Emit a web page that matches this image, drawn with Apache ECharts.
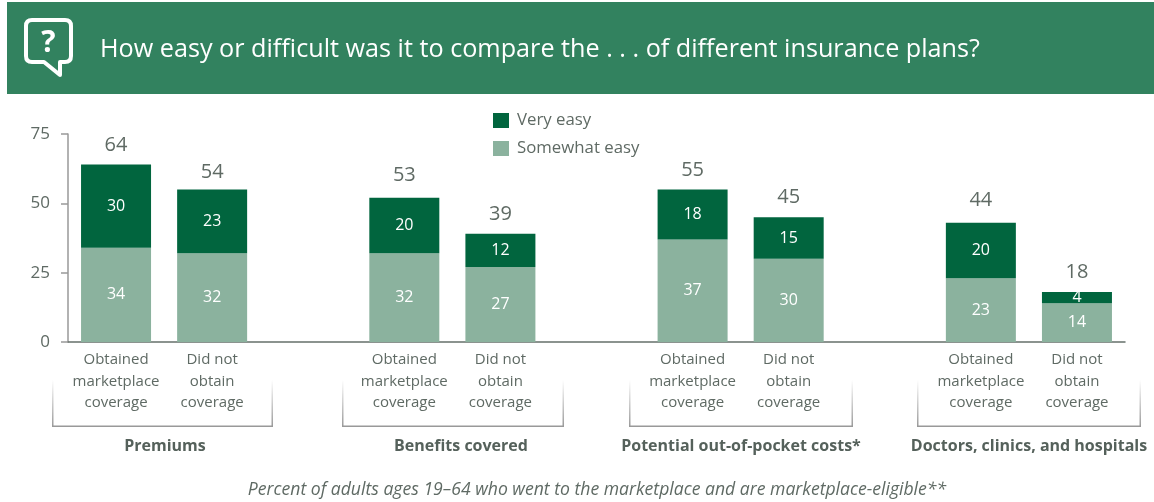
<!DOCTYPE html>
<html>
<head>
<meta charset="utf-8">
<style>html,body{margin:0;padding:0;background:#fff}#chart{width:1154px;height:502px}</style>
<script src="https://cdn.jsdelivr.net/npm/echarts@6/dist/echarts.min.js"></script>
</head>
<body>
<div id="chart"></div>
<script>
// Survey results: share of adults finding plan comparison easy, by topic and coverage outcome.
const categories = [
  'Obtained\nmarketplace\ncoverage', 'Did not\nobtain\ncoverage', '',
  'Obtained\nmarketplace\ncoverage', 'Did not\nobtain\ncoverage', '',
  'Obtained\nmarketplace\ncoverage', 'Did not\nobtain\ncoverage', '',
  'Obtained\nmarketplace\ncoverage', 'Did not\nobtain\ncoverage'
];
const somewhatEasy = [34, 32, null, 32, 27, null, 37, 30, null, 23, 14];
const veryEasy = [30, 23, null, 20, 12, null, 18, 15, null, 20, 4];
const totals = [64, 54, null, 53, 39, null, 55, 45, null, 44, 18];
const yTicks = [0, 25, 50, 75];
const groupNames = ['Premiums', 'Benefits covered', 'Potential out-of-pocket costs*', 'Doctors, clinics, and hospitals'];
const groupCenters = [165, 461, 741, 1029];
const bracketSpans = [[52, 273], [342, 564], [629, 853], [917, 1141]];
const headline = 'How easy or difficult was it to compare the . . . of different insurance plans?';
const footnote = 'Percent of adults ages 19\u201364 who went to the marketplace and are marketplace-eligible**';

const FONT = '"Open Sans", "Noto Sans", sans-serif';
const GREY = '#5f6a64';

// Speech-bubble outline for the question icon in the header band.
echarts.graphic.registerShape('bubble', echarts.graphic.extendPath(
  'M32 20H65Q71 20 71 26V56Q71 62 65 62H60V75L44 62H32Q26 62 26 56V26Q26 20 32 20Z', {}
));

// Bracket under each group: a solid foot with sides fading out upward.
const bracketTop = 380, bracketBottom = 427;
const fade = { type: 'linear', x: 0, y: 0, x2: 0, y2: 1,
  colorStops: [{ offset: 0, color: 'rgba(153,153,153,0)' }, { offset: 1, color: '#999999' }] };
const brackets = bracketSpans.flatMap(([a, b]) => [
  { type: 'rect', shape: { x: a, y: bracketTop, width: 1.5, height: bracketBottom - bracketTop }, style: { fill: fade }, silent: true },
  { type: 'rect', shape: { x: b - 1.5, y: bracketTop, width: 1.5, height: bracketBottom - bracketTop }, style: { fill: fade }, silent: true },
  { type: 'rect', shape: { x: a, y: bracketBottom - 1.5, width: b - a, height: 1.5 }, style: { fill: '#999999' }, silent: true }
]);
const groupLabels = groupNames.map((name, i) => ({
  type: 'text', x: groupCenters[i], y: 446, silent: true,
  style: { text: name, x: 0, y: 0, align: 'center', verticalAlign: 'middle',
    font: 'bold 16px ' + FONT, fill: '#55615b' }
}));

const chart = echarts.init(document.getElementById('chart'), null, { renderer: 'canvas' });
chart.setOption({
  animation: false,
  backgroundColor: '#ffffff',
  textStyle: { fontFamily: FONT },
  grid: { left: 68, right: 29, top: 134, bottom: 160, containLabel: false },
  legend: {
    data: ['Very easy', 'Somewhat easy'],
    orient: 'vertical', left: 493, top: 112, padding: 0,
    icon: 'rect',
    itemWidth: 16, itemHeight: 15, itemGap: 11,
    selectedMode: false,
    textStyle: { fontFamily: FONT, fontSize: 16.8, color: GREY, padding: [0, 0, 0, 3] }
  },
  xAxis: {
    type: 'category', data: categories,
    axisTick: { show: false },
    axisLine: { lineStyle: { color: '#66706b', width: 1.5 } },
    axisLabel: { interval: 0, fontFamily: FONT, fontSize: 15, color: GREY, lineHeight: 21.5, margin: 7 }
  },
  yAxis: {
    type: 'value', min: 0, max: 75, interval: 25,
    splitLine: { show: false },
    axisLine: { show: true, lineStyle: { color: '#999999', width: 1.5 } },
    axisTick: { show: true, length: 7, lineStyle: { color: '#999999', width: 1.5 } },
    axisLabel: { fontFamily: FONT, fontSize: 17, color: GREY, margin: 18,
      formatter: v => yTicks.includes(v) ? String(v) : '' }
  },
  series: [
    { name: 'Somewhat easy', type: 'bar', stack: 'easy', barWidth: 70, data: somewhatEasy,
      itemStyle: { color: '#8bb29e' },
      label: { show: true, position: 'inside', color: '#fff', fontFamily: FONT, fontSize: 16 } },
    { name: 'Very easy', type: 'bar', stack: 'easy', barWidth: 70, data: veryEasy,
      itemStyle: { color: '#01653e' },
      label: { show: true, position: 'inside', color: '#fff', fontFamily: FONT, fontSize: 16 } },
    // Invisible line that only carries the stack totals above each column.
    { name: 'Total', type: 'line', data: totals, symbol: 'circle', symbolSize: 1,
      showAllSymbol: true, connectNulls: false, silent: true,
      itemStyle: { color: 'rgba(0,0,0,0)' },
      lineStyle: { width: 0, color: 'rgba(0,0,0,0)' }, z: 5,
      label: { show: true, position: 'top', distance: 9, color: GREY, fontFamily: FONT, fontSize: 20 } }
  ],
  graphic: [
    { type: 'rect', shape: { x: 7, y: 2, width: 1147, height: 92 }, style: { fill: '#32825f' }, silent: true },
    { type: 'bubble', silent: true,
      style: { fill: 'none', stroke: '#ffffff', lineWidth: 4, lineJoin: 'round' } },
    { type: 'text', x: 48.5, y: 43, silent: true,
      style: { text: '?', x: 0, y: 0, align: 'center', verticalAlign: 'middle', font: 'bold 30px ' + FONT, fill: '#ffffff' } },
    { type: 'text', x: 100, y: 50, silent: true,
      style: { text: headline, x: 0, y: 0, align: 'left', verticalAlign: 'middle', font: '25.2px ' + FONT, fill: '#ffffff' } },
    ...brackets,
    ...groupLabels,
    { type: 'text', x: 597, y: 490, silent: true,
      style: { text: footnote, x: 0, y: 0, align: 'center', verticalAlign: 'middle', font: 'italic 17.6px ' + FONT, fill: GREY } }
  ]
});
</script>
</body>
</html>
